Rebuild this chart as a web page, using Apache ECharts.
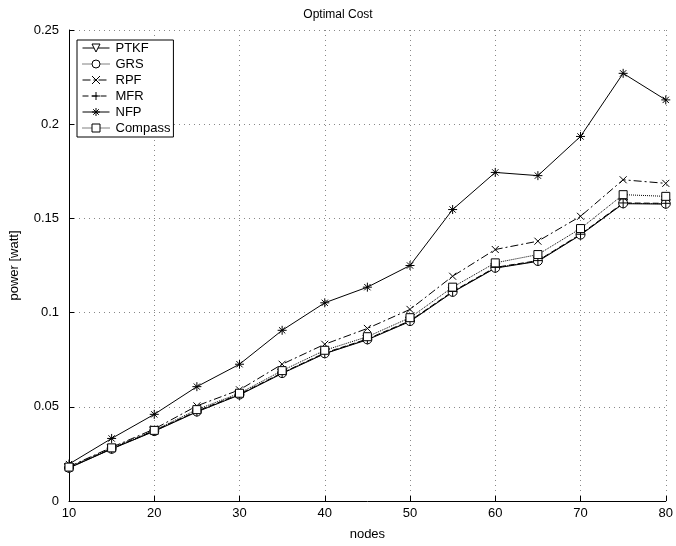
<!DOCTYPE html>
<html>
<head>
<meta charset="utf-8">
<script src="https://cdn.jsdelivr.net/npm/echarts@6/dist/echarts.min.js"></script>
<style>
  html, body { margin: 0; padding: 0; background: #fff; }
  #chart { width: 676px; height: 546px; }
</style>
</head>
<body>
<div id="chart"></div>
<script>
// nodes on the x axis
const nodes = [10, 15, 20, 25, 30, 35, 40, 45, 50, 55, 60, 65, 70, 75, 80]

// power [watt] per protocol
const ptkf = [0.0175, 0.0276, 0.0370, 0.0473, 0.0563, 0.0677, 0.0782, 0.0856, 0.0953, 0.1108, 0.1236, 0.1272, 0.1412, 0.1578, 0.1576]
const grs = [0.0176, 0.0277, 0.0371, 0.0475, 0.0565, 0.0679, 0.0784, 0.0858, 0.0955, 0.1110, 0.1238, 0.1274, 0.1414, 0.1580, 0.1578]
const rpf = [0.0182, 0.0285, 0.0382, 0.0505, 0.0590, 0.0726, 0.0832, 0.0916, 0.1017, 0.1193, 0.1335, 0.1379, 0.1511, 0.1705, 0.1686]
const mfr = [0.0177, 0.0278, 0.0373, 0.0477, 0.0567, 0.0680, 0.0786, 0.0860, 0.0957, 0.1112, 0.1240, 0.1276, 0.1416, 0.1582, 0.1580]
const nfp = [0.0196, 0.0332, 0.0460, 0.0607, 0.0726, 0.0906, 0.1052, 0.1135, 0.1250, 0.1547, 0.1744, 0.1727, 0.1935, 0.2270, 0.2129]
const compass = [0.0180, 0.0282, 0.0375, 0.0485, 0.0572, 0.0692, 0.0800, 0.0872, 0.0973, 0.1135, 0.1264, 0.1308, 0.1446, 0.1626, 0.1617]

const FONT = 'Liberation Sans, Arial, sans-serif'

// 标记形状
const xMark = 'path://M0 0 L10 10 M10 0 L0 10'
const plusMark = 'path://M5 0 L5 10 M0 5 L10 5'
const starMark = 'path://M5 0 L5 10 M0 5 L10 5 M1.5 1.5 L8.5 8.5 M8.5 1.5 L1.5 8.5'

function mkSeries(name, data, lineType, symbol, size, extra) {
  return Object.assign({
    name: name,
    type: 'line',
    data: data.map((v, i) => [nodes[i], v]),
    symbol: symbol,
    symbolSize: size,
    showAllSymbol: true,
    lineStyle: { color: '#000', width: 1, type: lineType },
    itemStyle: { color: '#fff', borderColor: '#000', borderWidth: 1 },
    emphasis: { disabled: true },
    animation: false
  }, extra || {})
}

const chart = echarts.init(document.getElementById('chart'))
chart.setOption({
  backgroundColor: '#fff',
  animation: false,
  title: {
    text: 'Optimal Cost',
    left: 'center',
    top: 4,
    textStyle: { fontFamily: FONT, fontSize: 12, fontWeight: 'normal', color: '#000' }
  },
  legend: {
    orient: 'vertical',
    left: 77,
    top: 40,
    padding: [1, 3, 2, 5],
    itemGap: 2,
    itemWidth: 27,
    itemHeight: 10,
    backgroundColor: '#fff',
    borderColor: '#000',
    borderWidth: 1,
    borderRadius: 0,
    itemStyle: { borderWidth: 1 },
    lineStyle: { width: 1 },
    textStyle: { fontFamily: FONT, fontSize: 13, lineHeight: 14, color: '#000', padding: [0, 0, 0, 1] },
    data: ['PTKF', 'GRS', 'RPF', 'MFR', 'NFP', 'Compass']
  },
  grid: { left: 67, right: 7, top: 30, bottom: 44 },
  xAxis: {
    type: 'value',
    min: 10,
    max: 80,
    interval: 10,
    name: 'nodes',
    nameLocation: 'middle',
    nameGap: 27,
    nameTextStyle: { fontFamily: FONT, fontSize: 13, color: '#000' },
    axisLine: { onZero: false, lineStyle: { color: '#000', width: 1 } },
    axisTick: { inside: true, length: 5, lineStyle: { color: '#000' } },
    axisLabel: { fontFamily: FONT, fontSize: 13, color: '#000', margin: 6 },
    splitLine: { show: true, lineStyle: { color: '#888', type: [1, 4], width: 1 } }
  },
  yAxis: {
    type: 'value',
    min: 0,
    max: 0.25,
    interval: 0.05,
    name: 'power [watt]',
    nameLocation: 'middle',
    nameGap: 48,
    nameTextStyle: { fontFamily: FONT, fontSize: 13, color: '#000' },
    axisLine: { show: true, lineStyle: { color: '#000', width: 1 } },
    axisTick: { show: true, inside: true, length: 5, lineStyle: { color: '#000' } },
    axisLabel: { fontFamily: FONT, fontSize: 13, color: '#000', margin: 10 },
    splitLine: { show: true, lineStyle: { color: '#888', type: [1, 4], width: 1 } }
  },
  series: [
    mkSeries('PTKF', ptkf, 'solid', 'triangle', 9, { symbolRotate: 180 }),
    mkSeries('GRS', grs, 'dotted', 'circle', 9),
    mkSeries('RPF', rpf, [8, 3, 2, 3], xMark, 7),
    mkSeries('MFR', mfr, [6, 3], plusMark, 9),
    mkSeries('NFP', nfp, 'solid', starMark, 9),
    mkSeries('Compass', compass, 'dotted', 'rect', 8)
  ]
})
</script>
</body>
</html>
